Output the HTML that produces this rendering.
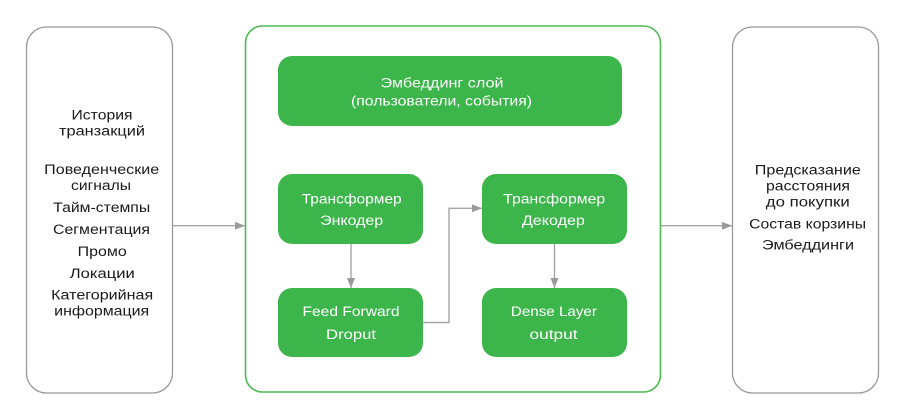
<!DOCTYPE html>
<html>
<head>
<meta charset="utf-8">
<style>
  html, body { margin:0; padding:0; background:#ffffff; }
  body { width:912px; height:419px; overflow:hidden; }
  svg { display:block; }
  text { font-family: "Liberation Sans", "DejaVu Sans", sans-serif; font-size:13.5px; }
  .dk { fill:#1a1a1a; }
  .wt { fill:#ffffff; }
</style>
</head>
<body>
<svg width="912" height="419" viewBox="0 0 912 419" xmlns="http://www.w3.org/2000/svg">
  <defs>
    <marker id="ah" viewBox="0 0 10 8" refX="10" refY="4" markerWidth="10" markerHeight="8" markerUnits="userSpaceOnUse" orient="auto">
      <path d="M0,0 L10,4 L0,8 Z" fill="#9a9a9a"/>
    </marker>
  </defs>

  <!-- outer boxes -->
  <rect x="26.5" y="27" width="146" height="366" rx="20" ry="20" fill="#fff" stroke="#999" stroke-width="1.3"/>
  <rect x="245.5" y="26" width="415" height="366" rx="17" ry="17" fill="#fff" stroke="#4dbb55" stroke-width="1.6"/>
  <rect x="732.5" y="27" width="146" height="366" rx="20" ry="20" fill="#fff" stroke="#999" stroke-width="1.3"/>

  <!-- green boxes -->
  <rect x="278" y="56" width="344" height="70" rx="14" ry="14" fill="#3cb54b"/>
  <rect x="278" y="174" width="145" height="70" rx="14" ry="14" fill="#3cb54b"/>
  <rect x="482" y="174" width="145" height="70" rx="14" ry="14" fill="#3cb54b"/>
  <rect x="278" y="288" width="145" height="69" rx="14" ry="14" fill="#3cb54b"/>
  <rect x="482" y="288" width="145" height="69" rx="14" ry="14" fill="#3cb54b"/>

  <!-- connectors -->
  <g stroke="#a6a6a6" stroke-width="1.4" fill="none">
    <line x1="173" y1="225.7" x2="245" y2="225.7" marker-end="url(#ah)"/>
    <line x1="661" y1="225.7" x2="732" y2="225.7" marker-end="url(#ah)"/>
    <line x1="351" y1="244" x2="351" y2="288" marker-end="url(#ah)"/>
    <line x1="554.5" y1="244" x2="554.5" y2="288" marker-end="url(#ah)"/>
    <polyline points="423,322.5 449,322.5 449,208.3 482,208.3" marker-end="url(#ah)"/>
  </g>

  <!-- left text -->
  <g class="dk" text-anchor="middle">
    <text x="102" y="119.5" textLength="61" lengthAdjust="spacingAndGlyphs">История</text>
    <text x="102" y="135.5" textLength="86" lengthAdjust="spacingAndGlyphs">транзакций</text>
    <text x="101.7" y="174" textLength="115" lengthAdjust="spacingAndGlyphs">Поведенческие</text>
    <text x="101" y="190" textLength="60" lengthAdjust="spacingAndGlyphs">сигналы</text>
    <text x="101.7" y="212" textLength="97" lengthAdjust="spacingAndGlyphs">Тайм-стемпы</text>
    <text x="101.5" y="234" textLength="97" lengthAdjust="spacingAndGlyphs">Сегментация</text>
    <text x="102.2" y="256" textLength="49" lengthAdjust="spacingAndGlyphs">Промо</text>
    <text x="102.3" y="278" textLength="65" lengthAdjust="spacingAndGlyphs">Локации</text>
    <text x="102.2" y="299.5" textLength="102" lengthAdjust="spacingAndGlyphs">Категорийная</text>
    <text x="101.7" y="315.5" textLength="95" lengthAdjust="spacingAndGlyphs">информация</text>
  </g>

  <!-- right text -->
  <g class="dk" text-anchor="middle">
    <text x="807.8" y="174.5" textLength="106" lengthAdjust="spacingAndGlyphs">Предсказание</text>
    <text x="808" y="190.5" textLength="84" lengthAdjust="spacingAndGlyphs">расстояния</text>
    <text x="807.8" y="206.5" textLength="84" lengthAdjust="spacingAndGlyphs">до покупки</text>
    <text x="807.6" y="228.5" textLength="117" lengthAdjust="spacingAndGlyphs">Состав корзины</text>
    <text x="808" y="249.5" textLength="92" lengthAdjust="spacingAndGlyphs">Эмбеддинги</text>
  </g>

  <!-- green box text -->
  <g class="wt" text-anchor="middle">
    <text x="442" y="87.3" textLength="123" lengthAdjust="spacingAndGlyphs">Эмбеддинг слой</text>
    <text x="441.5" y="105.5" textLength="181" lengthAdjust="spacingAndGlyphs">(пользователи, события)</text>

    <text x="351.7" y="203.5" textLength="100" lengthAdjust="spacingAndGlyphs">Трансформер</text>
    <text x="351.7" y="225" textLength="63" lengthAdjust="spacingAndGlyphs">Энкодер</text>

    <text x="554.2" y="203.5" textLength="102" lengthAdjust="spacingAndGlyphs">Трансформер</text>
    <text x="553.4" y="225" textLength="63" lengthAdjust="spacingAndGlyphs">Декодер</text>

    <text x="351" y="316" textLength="97" lengthAdjust="spacingAndGlyphs">Feed Forward</text>
    <text x="351" y="339" textLength="50" lengthAdjust="spacingAndGlyphs">Droput</text>

    <text x="553.9" y="316" textLength="86" lengthAdjust="spacingAndGlyphs">Dense Layer</text>
    <text x="553.5" y="339" textLength="48" lengthAdjust="spacingAndGlyphs">output</text>
  </g>
</svg>
</body>
</html>
